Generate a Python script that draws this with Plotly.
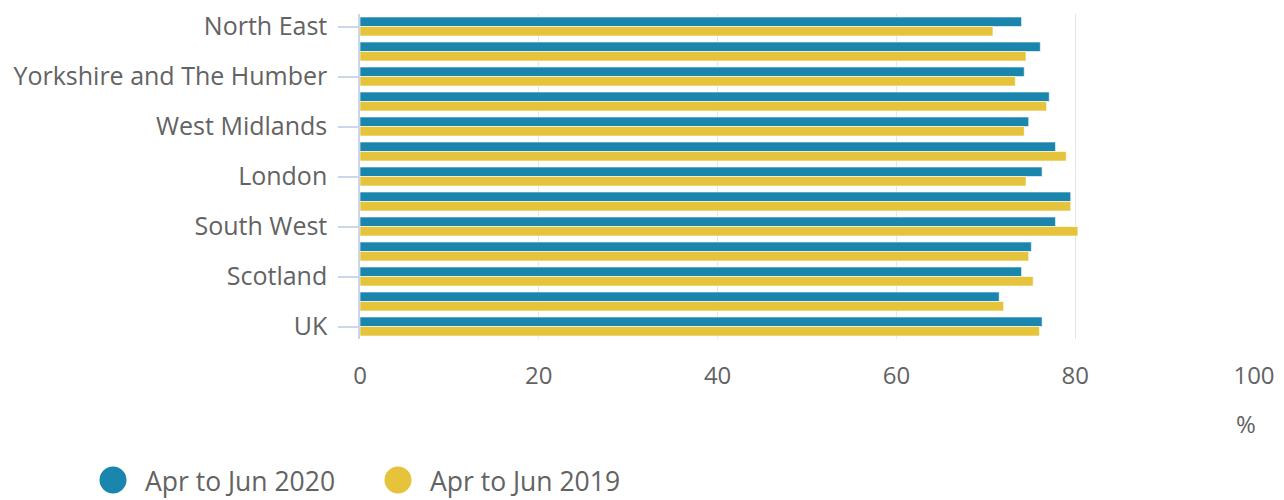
import plotly.graph_objects as go

regions = ["North East", "North West", "Yorkshire and The Humber", "East Midlands",
           "West Midlands", "East", "London", "South East", "South West", "Wales",
           "Scotland", "Northern Ireland", "UK"]
rate_2020 = [74.0, 76.1, 74.3, 77.1, 74.8, 77.8, 76.3, 79.5, 77.8, 75.1, 74.0, 71.5, 76.3]
rate_2019 = [70.8, 74.5, 73.3, 76.8, 74.3, 79.0, 74.5, 79.5, 80.3, 74.8, 75.3, 72.0, 76.0]
series_names = ["Apr to Jun 2020", "Apr to Jun 2019"]
x_ticks = [0, 20, 40, 60, 80, 100]
shown_labels = regions[::2]

blue = "#1a86ad"
yellow = "#e5c33a"
colors = [blue, yellow]
text_col = "#636363"
font = "Open Sans"

# page body has an 8px margin, so the figure is laid out in shifted coordinates
OFF = 8
W, H = 1284 - OFF, 500 - OFF
ML, MR, MT = 360 - OFF, 30, 13.5 - OFF
MB = H - (339.5 - OFF)
PW, PH = W - ML - MR, H - MT - MB


def px(xp):
    return (xp - OFF - ML) / PW


def py(yp):
    return (H - MB - (yp - OFF)) / PH


fig = go.Figure()
for name, vals, col in zip(series_names, [rate_2020, rate_2019], colors):
    fig.add_trace(go.Bar(y=regions, x=vals, orientation="h", name=name,
                         marker=dict(color=col, line=dict(color="white", width=0.6)),
                         showlegend=False))

# custom legend (large circular markers)
shapes = []
annotations = []
legend_circle_x = [113, 398]
legend_text_x = [143, 428]
legend_y = 481
r = 13.5
for name, col, cx, tx in zip(series_names, colors, legend_circle_x, legend_text_x):
    shapes.append(dict(type="circle", xref="paper", yref="paper",
                       x0=px(cx - r), x1=px(cx + r), y0=py(legend_y + r), y1=py(legend_y - r),
                       fillcolor=col, line=dict(width=0)))
    annotations.append(dict(text=name, x=px(tx), y=py(legend_y + 1), xref="paper", yref="paper",
                            xanchor="left", yanchor="middle", showarrow=False,
                            font=dict(family=font, size=26.5, color=text_col)))

annotations.append(dict(text="%", x=px(1246), y=py(424), xref="paper", yref="paper",
                        xanchor="center", yanchor="middle", showarrow=False,
                        font=dict(family=font, size=24, color=text_col)))

fig.update_layout(
    width=W, height=H,
    margin=dict(l=ML, r=MR, t=MT, b=MB, autoexpand=False),
    plot_bgcolor="white", paper_bgcolor="white",
    barmode="group", bargap=0.24, bargroupgap=0.0,
    font=dict(family=font, size=24, color=text_col),
    showlegend=False,
    xaxis=dict(range=[0, 100], tickvals=x_ticks, showgrid=True, gridcolor="#e6e6e6",
               gridwidth=1, zeroline=False, showline=False, ticks="", automargin=False,
               ticklabelstandoff=20, tickfont=dict(size=24, color=text_col)),
    yaxis=dict(categoryorder="array", categoryarray=regions, autorange="reversed",
               tickvals=shown_labels, ticks="outside", ticklen=20, tickcolor="#ccd6eb",
               tickwidth=1.5, showline=True, linecolor="#ccd6eb", linewidth=1.5,
               showgrid=False, automargin=False,
               ticklabelstandoff=6, tickfont=dict(size=25, color=text_col)),
    shapes=shapes,
    annotations=annotations,
)

fig.write_html("out.html")
